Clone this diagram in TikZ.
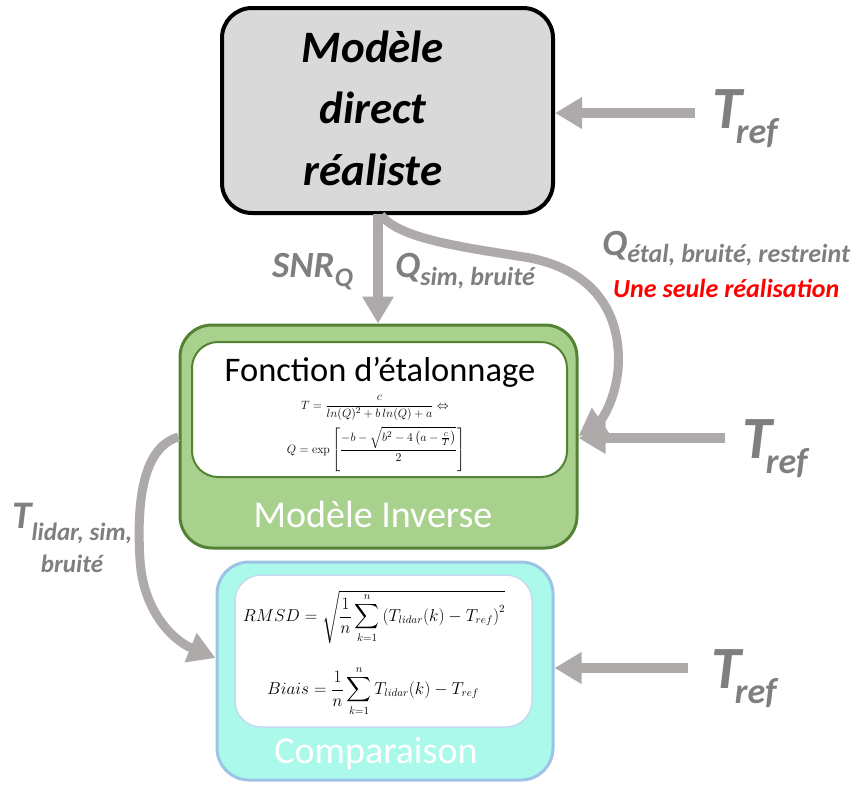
\documentclass[tikz,border=0pt]{standalone}
\usepackage{amsmath}
\usepackage[no-math]{fontspec}
\setmainfont{Carlito}
\usetikzlibrary{arrows.meta,calc}
\definecolor{arrowgray}{RGB}{174,170,170}
\definecolor{labelgray}{RGB}{127,127,127}
\definecolor{boxgray}{RGB}{217,217,217}
\definecolor{greenfill}{RGB}{169,209,142}
\definecolor{greenline}{RGB}{84,130,53}
\definecolor{cyanfill}{RGB}{170,249,235}
\definecolor{cyanline}{RGB}{157,195,230}
\tikzset{
  garrow/.style={draw=arrowgray, line width=10pt, -{Triangle[length=27pt,width=30pt]}},
  topbox/.style={draw=black, line width=4pt, fill=boxgray, rounded corners=30pt, minimum width=331pt, minimum height=205pt},
  greenbox/.style={draw=greenline, line width=3pt, fill=greenfill, rounded corners=32pt, minimum width=397pt, minimum height=223pt},
  greeninner/.style={draw=greenline, line width=2pt, fill=white, rounded corners=26pt, minimum width=375pt, minimum height=135pt},
  cyanbox/.style={draw=cyanline, line width=3pt, fill=cyanfill, rounded corners=32pt, minimum width=336pt, minimum height=218pt},
  cyaninner/.style={draw=cyanline!60, line width=1.5pt, fill=white, rounded corners=26pt, minimum width=297pt, minimum height=152pt},
  lbl/.style={text=labelgray, font=\bfseries\itshape, inner sep=0pt},
  eq/.style={inner sep=0pt}
}
\newcommand{\TrefLabel}{{\fontsize{60}{60}\selectfont T}\kern-6pt\raisebox{-15pt}{\fontsize{36}{36}\selectfont ref}}
\begin{document}
\begin{tikzpicture}[x=1pt,y=-1pt]
\useasboundingbox (0,0) rectangle (856,785);
% boxes
\node[topbox] (direct) at (387.5,110.5) {};
\node[font=\fontsize{45}{61.5}\selectfont\bfseries\itshape, align=center, inner sep=0pt, anchor=base] (directtxt) at (373,185) {Modèle\\direct\\réaliste};
\node[greenbox] (inv) at (378.5,436.5) {};
\node[greeninner] (invin) at (379.5,409.5) {};
\node[inner sep=0pt, anchor=base, font=\fontsize{34.5}{34.5}\selectfont] (fonct) at (380,381) {Fonction d’étalonnage};
\node[eq, font=\fontsize{13}{15}\selectfont] (eq1) at (375,408) {$T=\dfrac{c}{ln(Q)^2+b\,ln(Q)+a}\Leftrightarrow$};
\node[eq, font=\fontsize{13}{15}\selectfont] (eq2) at (376,449) {$Q=\exp\left[\dfrac{-b-\sqrt{b^2-4\left(a-\frac{c}{T}\right)}}{2}\right]$};
\node[inner sep=0pt, anchor=base, text=white, font=\fontsize{38}{38}\selectfont] (invtxt) at (373,527) {Modèle Inverse};
\node[cyanbox] (comp) at (385,671) {};
\node[cyaninner] (compin) at (383.5,651) {};
\node[eq, font=\fontsize{16}{18}\selectfont] (rmsd) at (374,617) {$RMSD=\sqrt{\dfrac{1}{n}\displaystyle\sum_{k=1}^{n}\left(T_{lidar}(k)-T_{ref}\right)^2}$};
\node[eq, font=\fontsize{16}{18}\selectfont] (biais) at (373,691) {$Biais=\dfrac{1}{n}\displaystyle\sum_{k=1}^{n}T_{lidar}(k)-T_{ref}$};
\node[inner sep=0pt, anchor=base, text=white, font=\fontsize{38}{38}\selectfont] (comptxt) at (376,763) {Comparaison};
% T_ref labels
\node[lbl, anchor=base west] (tref1) at (712,128) {\TrefLabel};
\node[lbl, anchor=base west] (tref2) at (742,458) {\TrefLabel};
\node[lbl, anchor=base west] (tref3) at (711,688) {\TrefLabel};
\coordinate (s1) at (695,113);
\coordinate (s2) at (725,438);
\coordinate (s3) at (688,668);
\draw[garrow] (s1) -- (direct.east |- s1);
\draw[garrow] (s2) -- (inv.east |- s2);
\draw[garrow] (s3) -- (comp.east |- s3);
% down arrow and curved arrows
\coordinate (dtop) at (378,214);
\draw[garrow] (dtop) -- (dtop |- inv.north);
\coordinate (ctip) at (inv.east |- 0,436);
\draw[draw=arrowgray, line width=9pt, -{Triangle[length=27pt,width=30pt]}]
  (381,215) .. controls (400,240) and (470,248) .. (530,258)
  .. controls (600,272) and (622,320) .. (618,370)
  .. controls (615,400) and (602,420) .. (ctip);
\coordinate (lstart) at (inv.west |- 0,437);
\coordinate (ltip) at (comp.west |- 0,658);
\draw[draw=arrowgray, line width=9pt, -{Triangle[length=27pt,width=30pt]}]
  (lstart) .. controls (140,448) and (137,510) .. (140,560)
  .. controls (143,610) and (172,640) .. (ltip);
% labels
\node[lbl, anchor=base west] (snr) at (272,277) {{\fontsize{37}{37}\selectfont SNR}\raisebox{-9pt}{\fontsize{27}{27}\selectfont Q}};
\node[lbl, anchor=base west] (qsim) at (395,277) {{\fontsize{37}{37}\selectfont Q}\raisebox{-8pt}{\fontsize{26}{26}\selectfont sim, bruité}};
\node[lbl, anchor=base west] (qetal) at (602,255) {{\fontsize{37}{37}\selectfont Q}\raisebox{-7pt}{\fontsize{26}{26}\selectfont étal, bruité, restreint}};
\node[inner sep=0pt, anchor=base west, text=red, font=\fontsize{26}{26}\selectfont\bfseries\itshape] (une) at (613,297) {Une seule réalisation};
\node[lbl, anchor=base west] (tlidar) at (12,528) {{\fontsize{39}{39}\selectfont T}\raisebox{-12pt}{\fontsize{25}{25}\selectfont lidar, sim,}};
\node[lbl, anchor=base, font=\fontsize{25}{25}\selectfont\bfseries\itshape] (bruite) at (72,572) {bruité};
\end{tikzpicture}
\end{document}
